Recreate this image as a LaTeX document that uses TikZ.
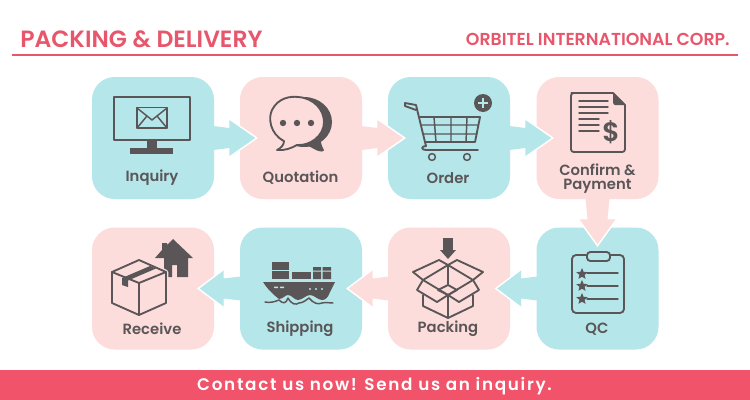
\documentclass[tikz,border=0pt]{standalone}
\usepackage{fontspec}
\setmainfont{Poppins}
\newfontfamily\medf{Poppins SemiBold}
\newfontfamily\medsp[LetterSpace=10]{Poppins SemiBold}
\usetikzlibrary{shapes.geometric,calc}
\definecolor{ink}{HTML}{5A5657}
\definecolor{sky}{HTML}{B5E6EA}
\definecolor{rose}{HTML}{FDDCDC}
\definecolor{title}{HTML}{E8566C}
\definecolor{band}{HTML}{F0536A}
\tikzset{
 tile/.style={rectangle,rounded corners=17pt,minimum size=91.5pt,inner sep=0pt,fill=#1},
 lab/.style={text=ink,font=\fontsize{11.1pt}{13pt}\medf,inner sep=0pt,align=center,anchor=center},
 ic/.style={draw=ink,line width=1.4pt,line join=round,line cap=round},
 thin/.style={draw=ink,line width=1.1pt,line join=round,line cap=round},
 tstar/.style={star,star points=5,star point ratio=2.2,fill=ink,inner sep=0pt,minimum size=9pt},
}
% from-anchor, rotation, colour, base offset, tip offset
\newcommand{\flowarrow}[5]{%
 \begin{scope}[shift={(#1)},rotate=#2]
  \draw[white,line width=2.4pt,miter limit=10] (#4,-18)--(#5,0)--(#4,18);
  \fill[#3] (-1,-12)--(#4,-10)--(#4,-18)--(#5,0)--(#4,18)--(#4,10)--(-1,12)--cycle;
 \end{scope}}
\begin{document}
\begin{tikzpicture}[x=0.75pt,y=-0.75pt]
\useasboundingbox (0,0) rectangle (750,400);
\fill[white] (0,0) rectangle (750,400);
% header
\node[anchor=west,inner sep=0pt,text=title,font=\fontsize{17.65pt}{20pt}\medf] (head) at (20,39) {PACKING \& DELIVERY};
\node[anchor=east,inner sep=0pt,text=title,font=\fontsize{13pt}{15pt}\medf] (corp) at (730,39) {ORBITEL INTERNATIONAL CORP.};
\draw[title,line width=1.5pt] (12,55) -- (738,55);
% footer
\fill[band] (0,370) rectangle (750,400);
\node[text=white,inner sep=0pt,font=\fontsize{12.6pt}{14pt}\medsp] (cta) at (374.5,386) {Contact us now! Send us an inquiry.};
% tiles
\node[tile=sky]  (inq) at (153,138) {};
\node[tile=rose] (quo) at (301,138) {};
\node[tile=sky]  (ord) at (449,138) {};
\node[tile=rose] (con) at (597.5,138) {};
\node[tile=sky]  (qc)  at (597.5,288.5) {};
\node[tile=rose] (pac) at (449,288.5) {};
\node[tile=sky]  (shi) at (301,288.5) {};
\node[tile=rose] (rec) at (153,288.5) {};
% arrows
\flowarrow{inq.east}{0}{sky}{15}{41}
\flowarrow{quo.east}{0}{rose}{15}{41}
\flowarrow{ord.east}{0}{sky}{15}{41}
\flowarrow{con.south}{-90}{rose}{20}{45}
\flowarrow{qc.west}{180}{sky}{15}{39}
\flowarrow{pac.west}{180}{rose}{15}{39}
\flowarrow{shi.west}{180}{sky}{16}{40}
% labels
\node[lab] (l1) at (152,178) {Inquiry};
\node[lab] (l2) at (300.5,178) {Quotation};
\node[lab] (l3) at (448,178) {Order};
\node[lab] (l4a) at (597.5,170) {Confirm \&};
\node[lab] (l4b) at (597.5,186.5) {Payment};
\node[lab] (l5) at (597,329) {QC};
\node[lab] (l6) at (448,329) {Packing};
\node[lab] (l7) at (300,329) {Shipping};
\node[lab] (l8) at (152,329) {Receive};
% monitor
\draw[ic] (114,97) rectangle (190,140);
\fill[ink] (147,140) rectangle (157,149);
\fill[ink] (130,148) rectangle (173,154);
\draw[ic] (137,107.5) rectangle (167,128);
\draw[thin] (137,108) -- (152,120) -- (167,108) (137,128) -- (147,116) (167,128) -- (157,116);
% speech bubbles
\fill[ink] (304,122) ellipse [x radius=28,y radius=25];
\fill[ink] (303,143) -- (316,150) .. controls (320,152) and (324,152) .. (324,150) .. controls (322,147) and (321,143) .. (320,138) -- cycle;
\draw[line width=1.4pt,draw=ink,fill=rose,line join=round] (284,141) .. controls (270,134) and (268,118) .. (272,110) .. controls (278,98) and (290,96) .. (298,97) .. controls (314,98) and (324,110) .. (324,122) .. controls (324,136) and (310,146) .. (297,145) .. controls (292,148) and (284,151) .. (277,150) .. controls (281,148) and (284,145) .. (284,141) -- cycle;
\fill[ink] (283,123) circle[radius=3.2] (297,123) circle[radius=3.2] (311,123) circle[radius=3.2];
% cart
\draw[ic] (416,110) -- (405,106) -- (405,103) -- (416,105) -- (425,142) -- (426,146) .. controls (421,146) and (421,150) .. (426,150) -- (478,150);
\draw[ic] (420,117) -- (480,117) -- (475,142) -- (425,142);
\draw[thin] (422,125) -- (478,125) (424,134) -- (477,134) (434,117) -- (436,142) (451,117) -- (451,142) (467,117) -- (466,142);
\draw[thin] (432,157) circle[radius=3.4] (467,157) circle[radius=3.4];
\fill[ink] (483,103) circle[radius=9];
\draw[sky,line width=1.8pt] (478,103) -- (488,103) (483,98) -- (483,108);
% invoice
\draw[ic,rounded corners=2pt] (613,93) -- (574,93) -- (571,93) -- (571,152) -- (625,152) -- (625,105);
\fill[ink] (613,93) -- (625,105) -- (615,105) .. controls (614,105) and (613,104) .. (613,102) -- cycle;
\draw[ic] (613,93) -- (625,105);
\draw[thin] (579,101) -- (608,101) (579,107) -- (608,107) (579,113) -- (608,113) (579,119) -- (599,119) (579,125) -- (599,125) (579,131) -- (599,131);
\node[text=ink,inner sep=0pt,font=\fontsize{20pt}{22pt}\medf] (dol) at (611,132) {\$};
% clipboard
\draw[ic,rounded corners=3pt] (586,255) -- (572,255) -- (572,313) -- (624,313) -- (624,255) -- (610,255);
\draw[ic,fill=sky,rounded corners=2.5pt] (587,252) rectangle (610,261);
\node[tstar] (s1) at (582,274) {};
\node[tstar] (s2) at (582,286) {};
\node[tstar] (s3) at (582,299) {};
\draw[thin] (587,273) -- (618,273) (587,286) -- (618,286) (587,299) -- (618,299);
% open box
\fill[ink] (443,238) rectangle (453,250);
\fill[ink] (440,250) -- (456,250) -- (448,259) -- cycle;
\draw[ic] (448,265) -- (439,260) -- (413,272) -- (423,280) -- (448,265) -- (457,260) -- (483,272) -- (473,280) -- (448,265);
\draw[ic] (423,280) -- (448,295) -- (473,280);
\draw[ic] (448,265) -- (448,285);
\draw[ic] (448,285) -- (457,290) -- (448,295) -- (438,290) -- cycle;
\draw[ic] (423,280) -- (417,290) -- (437,302) -- (448,295) -- (459,302) -- (479,290) -- (473,280);
\draw[ic] (423,295) -- (423,306) -- (448,318) -- (473,306) -- (473,295);
\draw[ic] (448,295) -- (448,318);
% ship
\fill[ink] (272,262) rectangle (289,270);
\fill[ink] (272,271) rectangle (289,279);
\fill[ink] (292,272) rectangle (311,279);
\fill[ink] (313,267) rectangle (321,270.5) (322.5,267) rectangle (331,270.5) (313,271.5) rectangle (321,279) (322.5,271.5) rectangle (331,279);
\fill[ink] (263,282) -- (335,282) -- (330,292) .. controls (328,298) and (325,300) .. (322,300) .. controls (318,300) and (314,295) .. (310,295) .. controls (306,295) and (302,300) .. (298,300) .. controls (294,300) and (292,295) .. (288,295) .. controls (285,295) and (283,299) .. (279,299) .. controls (275,296) and (268,290) .. cycle;
\fill[sky] (274,286.5) rectangle (278,288) (280,286.5) rectangle (284,288);
\fill[sky] (310,289) circle[radius=1.1] (316,289) circle[radius=1.1] (322,289) circle[radius=1.1];
\draw[thin] (265,302) .. controls (270,303) and (274,302) .. (279,300) .. controls (283,304) and (286,304) .. (288,298) .. controls (292,305) and (296,305) .. (299,303) .. controls (303,303) and (306,300) .. (309,298) .. controls (313,303) and (318,305) .. (322,303) .. controls (326,302) and (329,303) .. (333,303);
% house
\fill[ink] (173,239) -- (193,258) -- (188,258) -- (188,277) -- (177,277) -- (177,265) -- (172,265) -- (172,277) -- (164,277) -- (164,258) -- (155,258) -- (162,250) -- (162,243) -- (167,243) -- (167,245) -- cycle;
% parcel
\draw[rose,line width=3.4pt,line join=round] (112,272) -- (139,260) -- (166,272) -- (166,303);
\draw[ic,fill=rose] (139,260) -- (166,272) -- (166,303) -- (139,315) -- (112,303) -- (112,272) -- cycle;
\draw[ic] (112,272) -- (139,283) -- (166,272) (139,283) -- (139,315);
\fill[ink] (122,278) -- (150,266) -- (156,268.5) -- (128,280.5) -- (128,287) -- (122,285) -- cycle;
\end{tikzpicture}
\end{document}
